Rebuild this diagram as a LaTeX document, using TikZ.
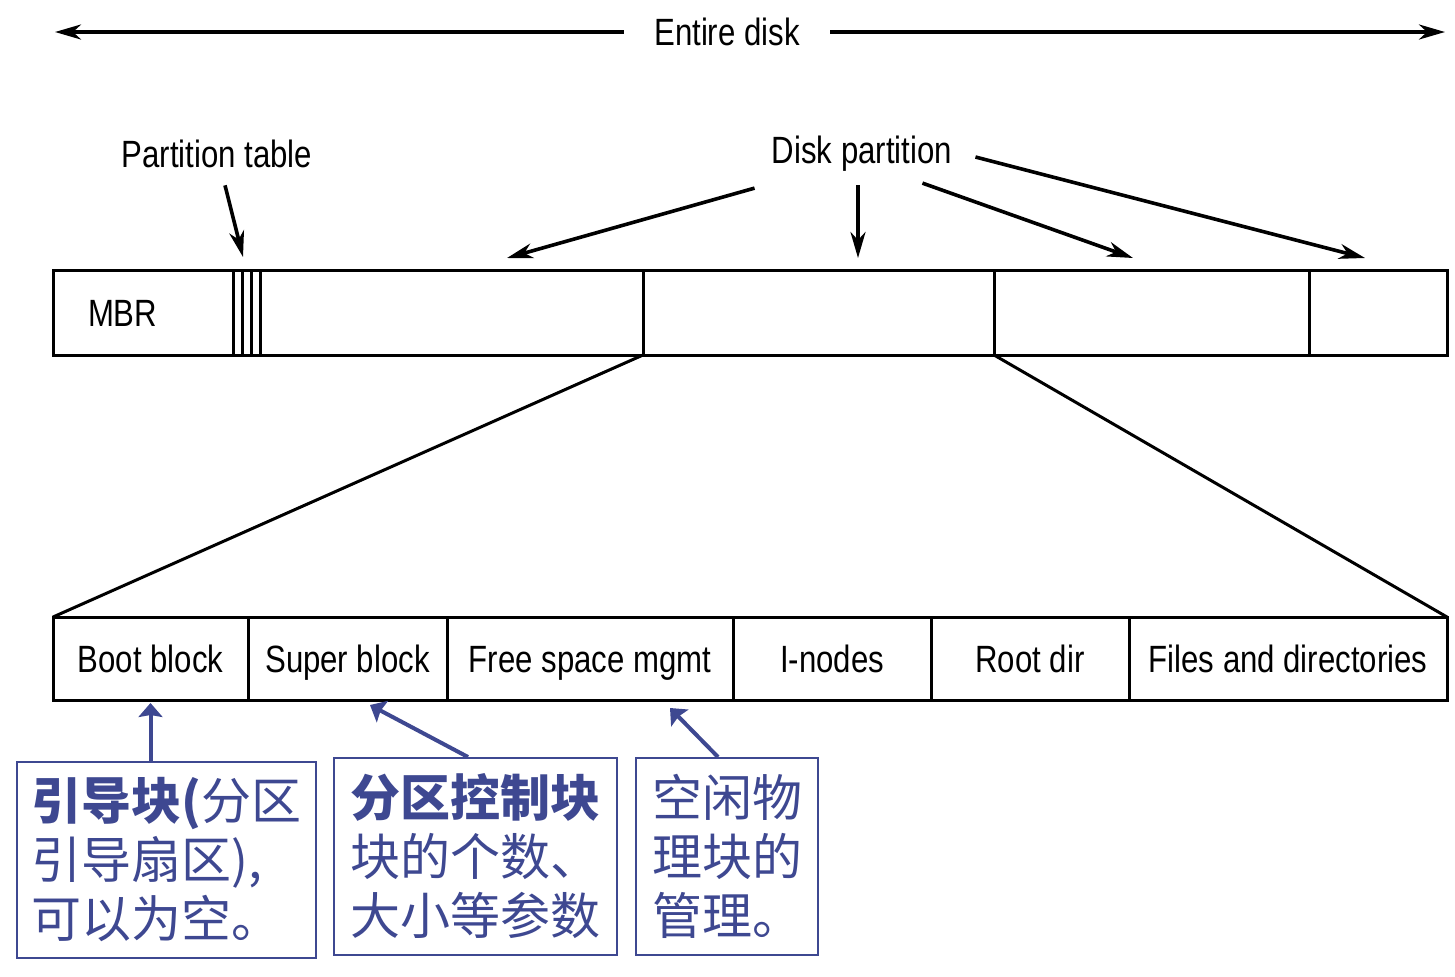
\documentclass[tikz,border=0pt]{standalone}
\usepackage{fontspec}
\setmainfont{Liberation Sans}[FakeStretch=0.82]
\newfontfamily\cjk{Noto Sans CJK SC}
\usepackage{xcolor}
\usepackage{tikz}
\usetikzlibrary{positioning, arrows.meta}
\definecolor{noteblue}{RGB}{62,72,145}
\tikzstyle{cell} = [rectangle, draw=black, line width=1.5pt, inner sep=0pt, outer sep=0pt, text centered, text height=13.6pt, text depth=0pt, font=\fontsize{19}{22}\selectfont]
\tikzstyle{plaintext} = [inner sep=4pt, font=\fontsize{19}{22}\selectfont]
\tikzstyle{arrow} = [line width=1.8pt, -{Stealth[length=13pt, width=7.5pt, inset=4pt]}]
\tikzstyle{zoomline} = [line width=1.5pt]
\tikzstyle{note} = [rectangle, draw=noteblue, line width=1pt, text=noteblue, align=left, font=\cjk\fontsize{25}{29.5}\selectfont]
\tikzstyle{callout} = [draw=noteblue, line width=2pt, -{Stealth[length=7pt, width=12pt, inset=1pt]}]

\begin{document}
\begin{tikzpicture}[x=0.5pt, y=-0.5pt]
        \useasboundingbox (0,0) rectangle (1455,976);

        \node (whole) [plaintext, inner xsep=15pt] at (727,32) {Entire disk};
        \coordinate (diskleft) at (55,32);
        \coordinate (diskright) at (1445,32);

        \node (ptab) [plaintext] at (217,154) {Partition table};
        \coordinate (ptabptr) at (243,257);
        \node (dp) [plaintext] at (862,154) {Disk partition};
        \coordinate (p1ptr) at (507,258);
        \coordinate (p2ptr) at (858,258);
        \coordinate (p3ptr) at (1133,258);
        \coordinate (p4ptr) at (1365,258);

        % whole disk
        \node (mbr) [cell, anchor=west, minimum width=90pt, minimum height=42.5pt, text width=55pt, inner xsep=17.5pt, align=left] at (53,312.5) {MBR};
        \node (ptab1) [cell, right=0pt of mbr, minimum width=4.5pt, minimum height=42.5pt] {};
        \node (ptab2) [cell, right=0pt of ptab1, minimum width=4.5pt, minimum height=42.5pt] {};
        \node (ptab3) [cell, right=0pt of ptab2, minimum width=4.5pt, minimum height=42.5pt] {};
        \node (part1) [cell, right=0pt of ptab3, minimum width=191.5pt, minimum height=42.5pt] {};
        \node (part2) [cell, right=0pt of part1, minimum width=175.5pt, minimum height=42.5pt] {};
        \node (part3) [cell, right=0pt of part2, minimum width=157.5pt, minimum height=42.5pt] {};
        \node (part4) [cell, right=0pt of part3, minimum width=69pt, minimum height=42.5pt] {};

        % one partition
        \node (boot) [cell, anchor=west, minimum width=97.5pt, minimum height=41.5pt] at (53,658.5) {Boot block};
        \node (super) [cell, right=0pt of boot, minimum width=99.5pt, minimum height=41.5pt] {Super block};
        \node (free) [cell, right=0pt of super, minimum width=143pt, minimum height=41.5pt] {Free space mgmt};
        \node (inodes) [cell, right=0pt of free, minimum width=99pt, minimum height=41.5pt] {I-nodes};
        \node (root) [cell, right=0pt of inodes, minimum width=99pt, minimum height=41.5pt] {Root dir};
        \node (files) [cell, right=0pt of root, minimum width=159pt, minimum height=41.5pt] {Files and directories};

        % notes
        \node (bootnote) [note, minimum width=149.5pt, minimum height=98pt] at (166.5,860) {{\bfseries 引导块(}分区\\引导扇区),\\可以为空。};
        \node (supernote) [note, minimum width=141.5pt, minimum height=98.5pt] at (475.5,856.5) {{\bfseries 分区控制块}\\块的个数、\\大小等参数};
        \node (freenote) [note, minimum width=91pt, minimum height=98.5pt] at (727,856.5) {空闲物\\理块的\\管理。};
        \coordinate (superptr) at (370,705);
        \coordinate (freeptr) at (670,708);

        \draw [arrow] (whole) -- (diskleft);
        \draw [arrow] (whole) -- (diskright);
        \draw [arrow] ([shift={(8,9)}]ptab.south) -- (ptabptr);
        \draw [arrow] ([shift={(-9,8)}]dp.south west) -- (p1ptr);
        \draw [arrow, shorten <=2.5pt] (dp.south -| p2ptr) -- (p2ptr);
        \draw [arrow] ([shift={(-38,3)}]dp.south east) -- (p3ptr);
        \draw [arrow] ([shift={(15,3)}]dp.east) -- (p4ptr);
        \draw [zoomline] (part2.south west) -- (boot.north west);
        \draw [zoomline] (part2.south east) -- (files.north east);
        \draw [callout, shorten >=1.5pt] (bootnote.north -| boot.south) -- (boot.south);
        \draw [callout] ([xshift=-3.75pt]supernote.north) -- (superptr);
        \draw [callout] ([xshift=-4.5pt]freenote.north) -- (freeptr);
     \end{tikzpicture}
\end{document}
